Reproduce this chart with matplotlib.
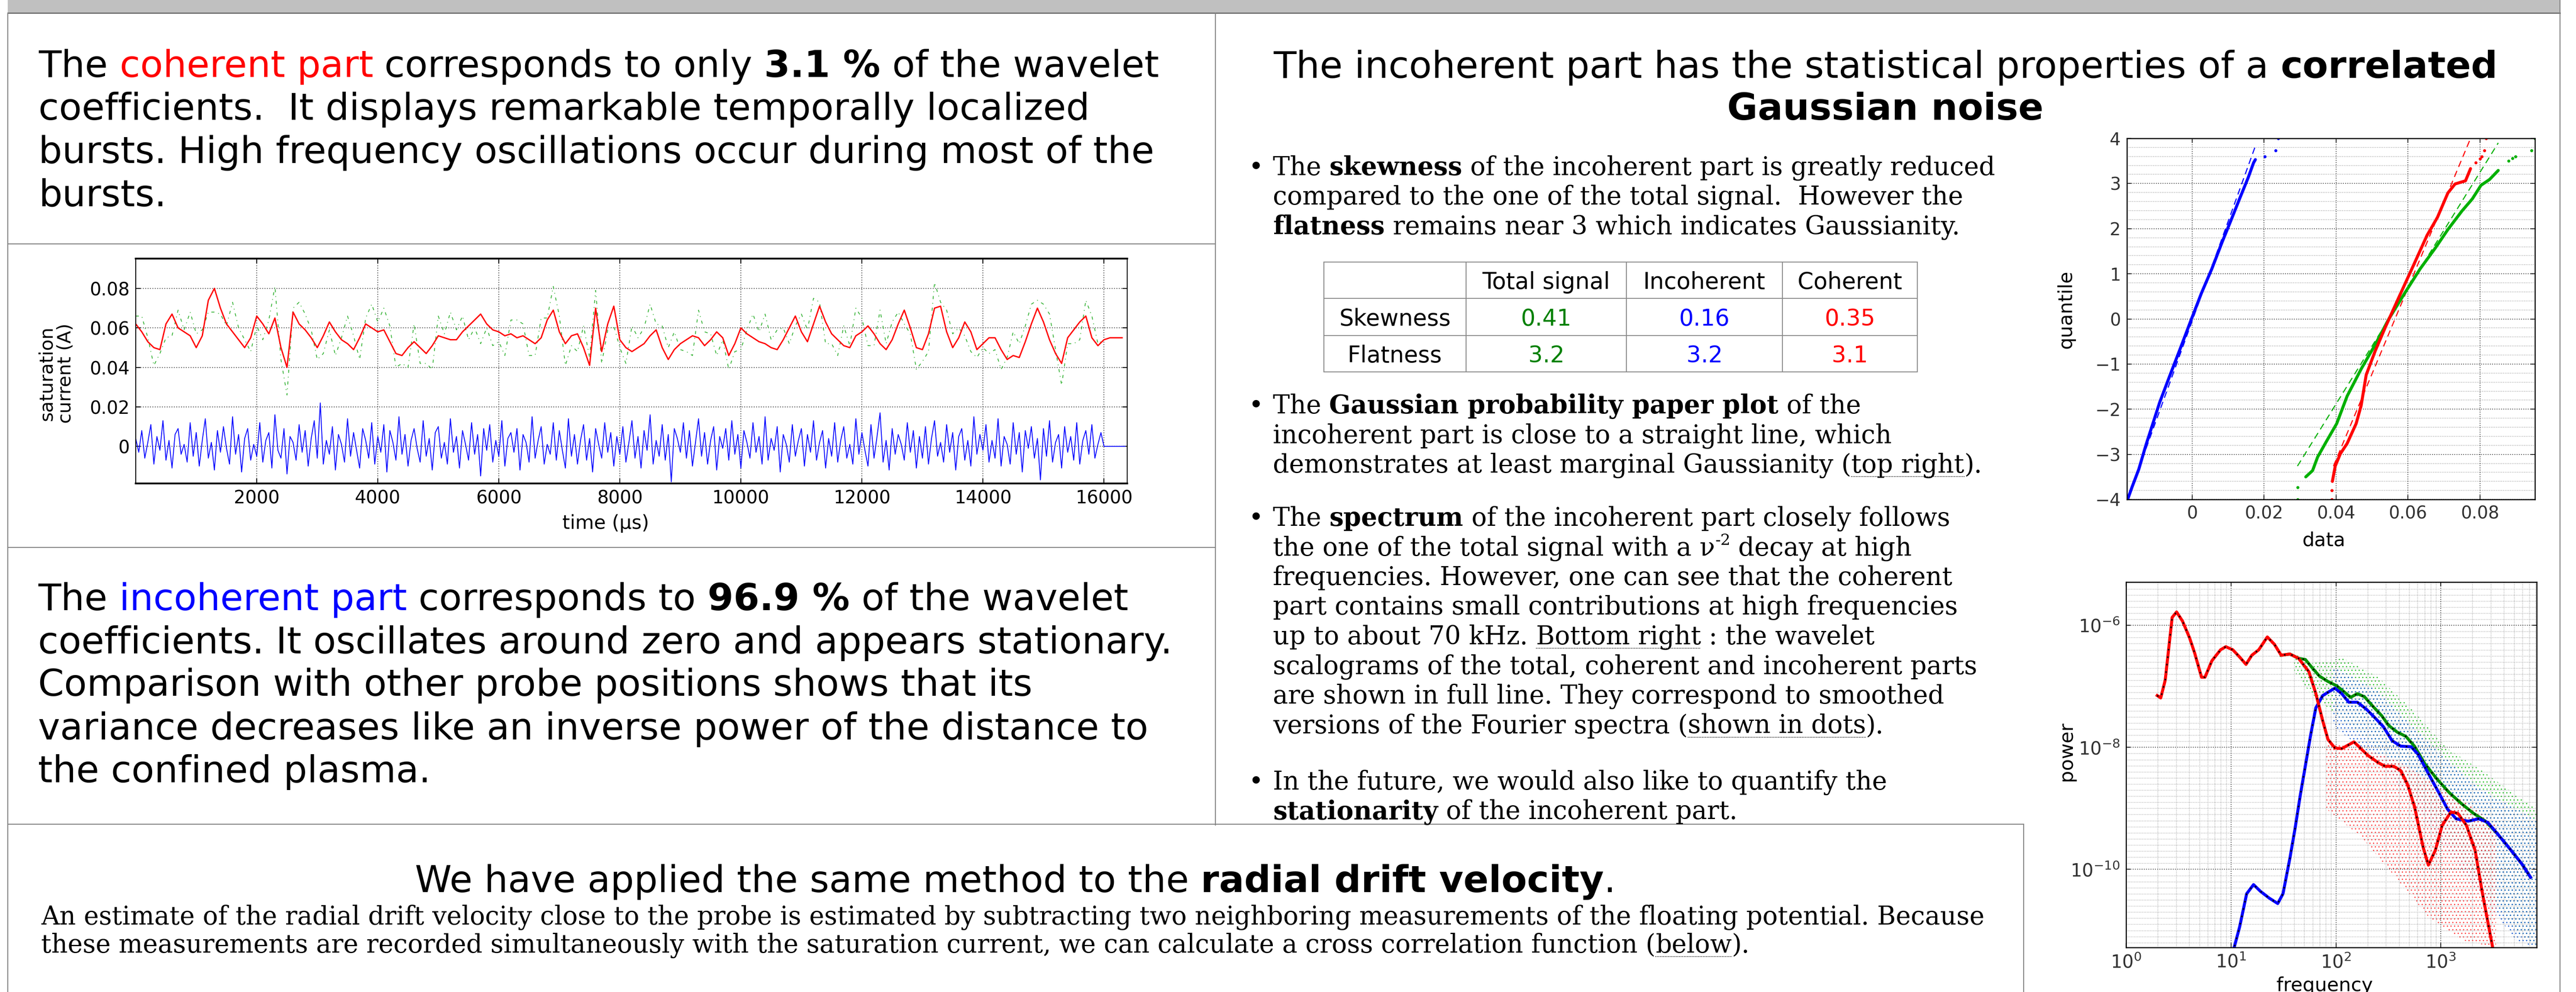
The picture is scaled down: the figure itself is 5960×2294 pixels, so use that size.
import numpy as np
import matplotlib
matplotlib.use('Agg')
import matplotlib.pyplot as plt
from matplotlib.font_manager import FontProperties
from matplotlib.patches import Rectangle
from matplotlib.ticker import FixedLocator, FixedFormatter, LogLocator, NullFormatter

plt.rcParams['font.family'] = 'DejaVu Sans'
plt.rcParams['hatch.linewidth'] = 1.0

W, H, DPI = 5960, 2294, 100

# ---------------- data ----------------
# coherent part of the saturation current (mA), one value every 100 us
coh_ma = [62, 58, 53, 50, 49, 62, 67, 60, 58, 56, 50, 56, 74, 80, 70, 62, 58, 54, 50, 55,
          66, 62, 57, 65, 50, 40, 68, 62, 59, 55, 50, 56, 63, 58, 54, 52, 49, 55, 62, 60,
          58, 59, 53, 47, 46, 50, 53, 50, 47, 51, 56, 55, 54, 54, 58, 61, 64, 67, 62, 59,
          58, 56, 57, 55, 56, 54, 52, 55, 64, 69, 58, 52, 56, 57, 50, 41, 70, 48, 62, 71,
          54, 50, 48, 50, 52, 56, 59, 50, 44, 49, 52, 54, 56, 55, 51, 54, 58, 55, 46, 52,
          60, 57, 55, 53, 52, 50, 49, 54, 60, 66, 58, 53, 62, 71, 63, 57, 54, 51, 50, 56,
          58, 61, 57, 52, 49, 54, 62, 69, 60, 50, 49, 57, 70, 71, 58, 50, 55, 63, 58, 49,
          52, 55, 55, 49, 44, 46, 45, 53, 62, 70, 63, 54, 47, 42, 55, 59, 63, 66, 55, 51,
          54, 55, 55, 55]
# incoherent part (mA), one value every 50 us
inc_ma = [4, -3, 8, -6, 2, 11, -9, 5, -2, 13, -7, 3, -11, 6, 9, -4, 1, -8, 12, -5,
          7, -10, 3, 14, -6, 2, -12, 8, -3, 10, -1, -9, 15, -4, 6, -13, 4, 9, -7, 1,
          -5, 12, -8, 3, 7, -11, 16, -2, -6, 9, -14, 5, 2, -7, 11, -3, 8, -10, 4, 13,
          -6, 22, -9, 3, -4, 10, -12, 6, 1, -8, 14, -5, 7, -2, -11, 9, 3, -6, 12, -9,
          5, -3, 11, -13, 8, 2, -7, 15, -4, 6, -10, 3, 9, -1, -8, 13, -5, 4, -12, 7,
          10, -6, 2, -9, 14, -3, 5, -11, 8, 1, -7, 12, -4, 6, -15, 9, -2, 11, -8, 3,
          -5, 13, -10, 4, 7, -3, 9, -12, 6, 2, -8, 15, -6, 3, 10, -9, 1, -4, 12, -7,
          8, -2, -11, 14, -5, 6, -9, 3, 11, -7, 4, -13, 9, 1, -6, 12, -3, 7, -10, 5,
          -4, 10, -8, 2, 13, -6, 5, -11, 8, -2, 16, -9, 3, -5, 11, -7, 6, -18, 9, 4,
          -3, 12, -6, 8, -10, 2, 14, -5, 7, -9, 3, 10, -12, 5, -1, 9, -7, 13, -4, 6,
          -11, 8, 2, -6, 12, -3, 5, -9, 15, -7, 4, -2, 10, -13, 6, 1, -8, 11, -5, 3,
          9, -10, 6, -3, 13, -7, 2, 8, -11, 4, -5, 12, -8, 3, 10, -6, 1, -9, 14, -4,
          7, -2, -10, 11, -6, 5, 17, -8, 3, -12, 9, -4, 6, 1, -7, 12, -3, 8, -11, 5,
          -6, 10, -9, 4, 13, -5, 2, -8, 11, -3, 7, -12, 5, 9, -7, 3, -10, 15, -4, 6,
          -2, 11, -8, 3, -6, 14, -10, 5, 1, -9, 12, -4, 7, -13, 8, -1, 10, -6, 4, -17,
          9, -5, 13, -8, 2, 6, -11, 10, -3, 5, -7, 12, -9, 3, 8, -4, 11, -6, 1, 7,
          0, 0, 0, 0, 0, 0, 0, 0]
ts_xticks = [2000, 4000, 6000, 8000, 10000, 12000, 14000, 16000]
ts_yticks = [0, 0.02, 0.04, 0.06, 0.08]
ts_ylabels = ['0', '0.02', '0.04', '0.06', '0.08']

# statistics table
table_head = ['', 'Total signal', 'Incoherent', 'Coherent']
table_rows = ['Skewness', 'Flatness']
skewness = [0.41, 0.16, 0.35]
flatness = [3.2, 3.2, 3.1]

# Gaussian probability paper plot (data, quantile)
qq_blue_x = [-0.0179, -0.0167, -0.0148, -0.0128, -0.0109, -0.0090, -0.0061, -0.0032, -0.0003,
             0.0026, 0.0055, 0.0084, 0.0108, 0.0132, 0.0156, 0.0171, 0.0176]
qq_blue_q = [-4.0, -3.73, -3.33, -2.79, -2.32, -1.85, -1.24, -0.64, -0.03,
             0.57, 1.11, 1.71, 2.18, 2.66, 3.13, 3.46, 3.53]
qq_blue_tail_x = [0.0202, 0.0232, 0.0240]
qq_blue_tail_q = [3.60, 3.73, 4.0]
qq_green_x = [0.0316, 0.0335, 0.0349, 0.0373, 0.0402, 0.0431, 0.0470, 0.0509, 0.0547, 0.0591,
              0.0634, 0.0677, 0.0711, 0.0750, 0.0779, 0.0803, 0.0827, 0.0851]
qq_green_q = [-3.50, -3.36, -3.06, -2.72, -2.32, -1.71, -1.11, -0.57, 0.0, 0.57,
              1.11, 1.58, 1.98, 2.39, 2.66, 2.96, 3.09, 3.29]
qq_green_tail_x = [0.0293, 0.0294, 0.0880, 0.0890, 0.0899, 0.0943, 0.0953]
qq_green_tail_q = [-4.0, -3.73, 3.50, 3.56, 3.60, 3.73, 4.0]
qq_red_x = [0.0390, 0.0398, 0.0412, 0.0431, 0.0456, 0.0470, 0.0484, 0.0509, 0.0538, 0.0576,
            0.0615, 0.0653, 0.0682, 0.0711, 0.0731, 0.0760, 0.0774]
qq_red_q = [-3.60, -3.26, -2.99, -2.76, -2.32, -1.92, -1.24, -0.71, -0.17, 0.50,
            1.18, 1.85, 2.25, 2.79, 2.99, 3.06, 3.33]
qq_red_tail_x = [0.0388, 0.0388, 0.0788, 0.0800, 0.0805, 0.0813, 0.0817]
qq_red_tail_q = [-4.0, -3.80, 3.46, 3.55, 3.60, 3.73, 4.0]
qq_fit_blue = ([-0.0179, 0.0176], [-4.0, 3.83])
qq_fit_green = ([0.0293, 0.0851], [-3.26, 3.9])
qq_fit_red = ([0.0393, 0.0774], [-3.26, 4.0])

# wavelet scalograms (frequency, log10 power)
sp_red_f = [1.98, 2.14, 2.36, 2.75, 3.03, 3.45, 4.02, 4.50, 5.24, 5.65, 6.58, 7.96, 8.92, 10.4,
            12.1, 13.9, 15.8, 18.4, 22.2, 25.9, 30.1, 36.4, 44.0, 55.3, 64.4, 75.0, 84.0, 97.7,
            113.8, 148.5, 173, 201, 253, 294, 356, 414, 482, 561, 679, 761, 885, 1030, 1247,
            1452, 1755, 2124, 2472, 2768, 3103]
sp_red_lp = [-7.15, -7.19, -6.90, -5.87, -5.78, -5.93, -6.20, -6.45, -6.85, -6.85, -6.58, -6.40,
             -6.35, -6.40, -6.52, -6.64, -6.49, -6.40, -6.19, -6.31, -6.49, -6.47, -6.54, -6.76,
             -7.12, -7.57, -7.87, -8.01, -8.02, -7.91, -8.02, -8.13, -8.25, -8.31, -8.31, -8.38,
             -8.61, -8.97, -9.64, -9.93, -9.69, -9.28, -9.06, -9.08, -9.28, -9.69, -10.36,
             -10.81, -11.26]
sp_green_f = [30.1, 36.4, 44.0, 51.2, 59.7, 69.5, 84, 101.6, 118, 138, 160, 187, 226, 273, 318,
              384, 464, 561, 705, 920, 1200, 1566, 2042, 2667, 3478, 4535, 5918, 7163]
sp_green_lp = [-6.49, -6.47, -6.54, -6.56, -6.70, -6.83, -6.92, -6.99, -7.08, -7.18, -7.12,
               -7.17, -7.33, -7.48, -7.64, -7.75, -7.82, -7.98, -8.27, -8.52, -8.74, -8.92,
               -9.08, -9.21, -9.42, -9.66, -9.91, -10.13]
sp_blue_f = [10.8, 12.1, 14.1, 16.4, 19.1, 23.1, 27.9, 31.3, 36.4, 40.8, 45.7, 51.3, 57.4, 64.4,
             75.0, 87.3, 97.7, 113.8, 132.5, 160, 194, 234, 283, 343, 414, 520, 605, 761, 955,
             1156, 1397, 1823, 2293, 2800, 3478, 4535, 5918, 7163]
sp_blue_lp = [-11.26, -10.94, -10.40, -10.25, -10.36, -10.47, -10.56, -10.40, -9.82, -9.33,
              -8.79, -8.29, -7.80, -7.35, -7.15, -7.08, -7.03, -7.12, -7.26, -7.26, -7.37,
              -7.51, -7.66, -7.89, -7.98, -7.99, -8.11, -8.43, -8.74, -9.01, -9.17, -9.21,
              -9.17, -9.23, -9.42, -9.66, -9.91, -10.13]
# envelopes of the Fourier spectra clouds (frequency, low, high log10 power)
cl_green_f = [40, 55.3, 118, 253, 540, 1150, 2450, 5300, 8192]
cl_green_lo = [-6.75, -7.08, -7.57, -8.02, -8.65, -9.46, -10.27, -11.03, -11.28]
cl_green_hi = [-6.45, -6.63, -6.54, -6.85, -7.39, -8.02, -8.38, -8.79, -9.01]
cl_blue_f = [94, 253, 540, 1150, 2450, 5300, 8192]
cl_blue_lo = [-7.66, -8.20, -8.92, -9.69, -10.45, -11.17, -11.28]
cl_blue_hi = [-6.67, -7.08, -7.66, -8.20, -8.70, -9.01, -9.19]
cl_red_f = [81, 173, 370, 790, 1690, 3360]
cl_red_lo = [-9.01, -9.46, -10.13, -10.81, -11.17, -11.28]
cl_red_hi = [-7.93, -8.02, -8.20, -8.56, -8.88, -9.28]

# ---------------- figure ----------------
fig = plt.figure(figsize=(W / DPI, H / DPI), dpi=DPI)
bg = fig.add_axes([0, 0, 1, 1])
bg.set_xlim(0, W)
bg.set_ylim(H, 0)
bg.axis('off')
renderer = fig.canvas.get_renderer()


def adv(s, fp):
    w1 = renderer.get_text_width_height_descent('x' + s + 'x', fp, ismath=False)[0]
    w0 = renderer.get_text_width_height_descent('xx', fp, ismath=False)[0]
    return w1 - w0


def put(x, y, segs, size, family='DejaVu Sans', ha='left'):
    parts = []
    total = 0.0
    for seg in segs:
        if isinstance(seg, str):
            seg = (seg, {})
        text, st = seg
        sz = size * (0.62 if st.get('sup') else 1.0)
        fp = FontProperties(family=family, size=sz,
                            weight='bold' if st.get('bold') else 'normal')
        w = adv(text, fp)
        parts.append((text, st, fp, w))
        total += w
    if ha == 'center':
        x -= total / 2
    for text, st, fp, w in parts:
        dy = size * DPI / 72 * 0.42 if st.get('sup') else 0
        bg.text(x, y - dy, text, fontproperties=fp, color=st.get('color', 'black'),
                ha='left', va='baseline')
        if st.get('ul'):
            bg.plot([x, x + w], [y + 9, y + 9], color='black', lw=1.2,
                    ls=(0, (1, 1.2)), clip_on=False)
        x += w


def hline(x0, x1, y, c='#808080', lw=1.6):
    bg.plot([x0, x1], [y, y], color=c, lw=lw, clip_on=False)


def vline(x, y0, y1, c='#808080', lw=1.6):
    bg.plot([x, x], [y0, y1], color=c, lw=lw, clip_on=False)


def px_axes(l, t, r, b):
    return fig.add_axes([l / W, 1 - b / H, (r - l) / W, (b - t) / H])


# frame of the poster
bg.add_patch(Rectangle((18, 0), 5905, 30, facecolor='#c0c0c0', edgecolor='none'))
hline(18, 5923, 30, c='#6a6a6a', lw=2)
vline(18, 30, H)
vline(5923, 0, H)
vline(2812, 30, 1908)
hline(18, 2812, 564)
hline(18, 2812, 1266)
hline(18, 4682, 1906)
vline(4682, 1906, H)

B = {'bold': True}
HEAD = 62
BODY = 42.3

# left column texts
put(89, 178, ['The ', ('coherent part', {'color': '#ff0000'}), ' corresponds to only ',
              ('3.1 %', B), ' of the wavelet'], HEAD)
put(89, 277, ['coefficients.  It displays remarkable temporally localized'], HEAD)
put(89, 377, ['bursts. High frequency oscillations occur during most of the'], HEAD)
put(89, 476, ['bursts.'], HEAD)

put(88, 1411, ['The ', ('incoherent part', {'color': '#0000ff'}), ' corresponds to ',
               ('96.9 %', B), ' of the wavelet'], HEAD)
put(88, 1511, ['coefficients. It oscillates around zero and appears stationary.'], HEAD)
put(88, 1609, ['Comparison with other probe positions shows that its'], HEAD)
put(88, 1710, ['variance decreases like an inverse power of the distance to'], HEAD)
put(88, 1809, ['the confined plasma.'], HEAD)

# right column title
put(4362, 180, ['The incoherent part has the statistical properties of a ',
                ('correlated', B)], HEAD, ha='center')
put(4362, 277, [('Gaussian noise', B)], HEAD, ha='center')

# bullets
SER = 'DejaVu Serif'
bullets = [
    (405, [['The ', ('skewness', B), ' of the incoherent part is greatly reduced'],
           ['compared to the one of the total signal.  However the'],
           [('flatness', B), ' remains near 3 which indicates Gaussianity.']]),
    (956, [['The ', ('Gaussian probability paper plot', B), ' of the'],
           ['incoherent part is close to a straight line, which'],
           ['demonstrates at least marginal Gaussianity (', ('top right', {'ul': True}), ').']]),
    (1216, [['The ', ('spectrum', B), ' of the incoherent part closely follows'],
            ['the one of the total signal with a \u03bd', ('-2', {'sup': True}), ' decay at high'],
            ['frequencies. However, one can see that the coherent'],
            ['part contains small contributions at high frequencies'],
            ['up to about 70 kHz. ', ('Bottom right', {'ul': True}), ' : the wavelet'],
            ['scalograms of the total, coherent and incoherent parts'],
            ['are shown in full line. They correspond to smoothed'],
            ['versions of the Fourier spectra (', ('shown in dots', {'ul': True}), ').']]),
    (1826, [['In the future, we would also like to quantify the'],
            [('stationarity', B), ' of the incoherent part.']]),
]
for y0, lines in bullets:
    put(2888, y0, ['\u2022'], BODY, family=SER)
    for k, segs in enumerate(lines):
        put(2945, y0 + k * 68.5, segs, BODY, family=SER)

# statistics table
tx = [3063, 3392, 3763, 4124, 4436]
ty = [606, 690, 776, 860]
for x in tx:
    vline(x, ty[0], ty[-1], c='#888888', lw=1.5)
for y in ty:
    hline(tx[0], tx[-1], y, c='#888888', lw=1.5)
val_colors = ['#008000', '#0000ff', '#ff0000']
for j, hd in enumerate(table_head):
    bg.text((tx[j] + tx[j + 1]) / 2, (ty[0] + ty[1]) / 2 + 20, hd, fontsize=38,
            ha='center', va='baseline')
for i, (name, vals) in enumerate(zip(table_rows, [skewness, flatness])):
    yb = (ty[i + 1] + ty[i + 2]) / 2 + 20
    bg.text((tx[0] + tx[1]) / 2, yb, name, fontsize=38, ha='center', va='baseline')
    for j, v in enumerate(vals):
        bg.text((tx[j + 1] + tx[j + 2]) / 2, yb, f'{v:g}', fontsize=38, ha='center',
                va='baseline', color=val_colors[j])

# bottom panel
put(2349, 2063, ['We have applied the same method to the ', ('radial drift velocity', B), '.'],
    HEAD, ha='center')
put(95, 2138, ['An estimate of the radial drift velocity close to the probe is estimated by '
               'subtracting two neighboring measurements of the floating potential. Because'],
    BODY, family=SER)
put(95, 2203, ['these measurements are recorded simultaneously with the saturation current, '
               'we can calculate a cross correlation function (', ('below', {'ul': True}), ').'],
    BODY, family=SER)

# ---------------- time series ----------------
coh = np.array(coh_ma) * 1e-3
inc = np.array(inc_ma) * 1e-3
t_coh = np.arange(len(coh)) * 100
t_inc = np.arange(len(inc)) * 50
n = min(len(coh), len(inc[::2]), 161)
total = coh[:n] + inc[::2][:n]

ax1 = px_axes(314, 598, 2608, 1118)
ax1.plot(t_coh[:n], total, color='#30b030', ls=(0, (4, 5, 1, 5)), lw=1.3)
ax1.plot(t_coh, coh, color='#ff0000', lw=2.2)
ax1.plot(t_inc, inc, color='#0000ff', lw=1.4)
ax1.set_xlim(0, 16384)
ax1.set_ylim(-0.0188, 0.0951)
ax1.set_xticks(ts_xticks)
ax1.set_yticks(ts_yticks)
ax1.set_yticklabels(ts_ylabels)
ax1.grid(True, ls=':', color='0.35', lw=1.5)
ax1.tick_params(direction='in', length=8, width=1.5, labelsize=30, top=True, right=True, pad=10)
for s in ['top', 'bottom']:
    ax1.spines[s].set_linewidth(3)
for s in ['left', 'right']:
    ax1.spines[s].set_linewidth(1.5)
bg.text(130, 863, 'saturation\ncurrent (A)', rotation=90, fontsize=31, ha='center',
        va='center', linespacing=1.05)
bg.text(1401, 1211, 'time (\u00b5s)', fontsize=32, ha='center', va='center')

# ---------------- probability paper plot ----------------
ax2 = px_axes(4921, 320, 5865, 1155)
for fx, fq, c in [(qq_fit_blue[0], qq_fit_blue[1], '#0000ff'),
                  (qq_fit_green[0], qq_fit_green[1], '#00b000'),
                  (qq_fit_red[0], qq_fit_red[1], '#ff0000')]:
    ax2.plot(fx, fq, color=c, ls=(0, (6, 4)), lw=1.8)
for x, q, tx_, tq, c in [(qq_blue_x, qq_blue_q, qq_blue_tail_x, qq_blue_tail_q, '#0000ff'),
                         (qq_green_x, qq_green_q, qq_green_tail_x, qq_green_tail_q, '#00b000'),
                         (qq_red_x, qq_red_q, qq_red_tail_x, qq_red_tail_q, '#ff0000')]:
    ax2.plot(x, q, color=c, lw=5, solid_capstyle='round')
    ax2.plot(tx_, tq, 'o', color=c, ms=4)
ax2.set_xlim(-0.0181, 0.0953)
ax2.set_ylim(-4, 4)
ax2.set_xticks([0, 0.02, 0.04, 0.06, 0.08])
ax2.set_xticklabels(['0', '0.02', '0.04', '0.06', '0.08'])
ax2.set_yticks([-4, -3, -2, -1, 0, 1, 2, 3, 4])
ax2.set_yticklabels(['\u22124', '\u22123', '\u22122', '\u22121', '0', '1', '2', '3', '4'])
ax2.yaxis.set_minor_locator(FixedLocator(np.arange(-40, 41, 2) / 10))
ax2.grid(True, which='major', ls=':', color='0.3', lw=1.4)
ax2.grid(True, which='minor', axis='y', ls=':', color='0.6', lw=1.1)
ax2.tick_params(which='both', direction='in', top=True, right=True, width=1.2)
ax2.tick_params(which='major', length=7, labelsize=29, pad=10, labelcolor='#333333')
ax2.tick_params(which='minor', length=0)
for s in ax2.spines.values():
    s.set_linewidth(1.8)
bg.text(4780, 715, 'quantile', rotation=90, fontsize=32, ha='center', va='center')
bg.text(5377, 1250, 'data', fontsize=32, ha='center', va='center')

# ---------------- spectra ----------------
ax3 = px_axes(4919, 1346, 5869, 2191)
ax3.set_xscale('log')
ax3.set_yscale('log')
for f, lo, hi, c in [(cl_green_f, cl_green_lo, cl_green_hi, '#30c030'),
                     (cl_blue_f, cl_blue_lo, cl_blue_hi, '#2060d0'),
                     (cl_red_f, cl_red_lo, cl_red_hi, '#ff4040')]:
    ax3.fill_between(f, 10 ** np.array(lo), 10 ** np.array(hi), facecolor='none',
                     edgecolor=c, hatch='..', linewidth=0)
for f, lp, c in [(sp_green_f, sp_green_lp, '#009000'),
                 (sp_blue_f, sp_blue_lp, '#0000ff'),
                 (sp_red_f, sp_red_lp, '#ff0000')]:
    p = 10 ** np.array(lp)
    ax3.plot(f, p, color=c, lw=5, solid_joinstyle='round')
    ax3.plot(f, p, color='black', lw=2.5, ls=(0, (1, 4)))
ax3.set_xlim(1, 8192)
ax3.set_ylim(10 ** -11.28, 10 ** -5.29)
ax3.xaxis.set_major_locator(FixedLocator([1, 10, 100, 1000]))
ax3.xaxis.set_major_formatter(FixedFormatter([r'$10^{0}$', r'$10^{1}$', r'$10^{2}$', r'$10^{3}$']))
ax3.xaxis.set_minor_locator(LogLocator(base=10, subs=np.arange(2, 10), numticks=100))
ax3.xaxis.set_minor_formatter(NullFormatter())
ax3.yaxis.set_major_locator(FixedLocator([1e-10, 1e-8, 1e-6]))
ax3.yaxis.set_major_formatter(FixedFormatter([r'$10^{-10}$', r'$10^{-8}$', r'$10^{-6}$']))
ax3.yaxis.set_minor_locator(FixedLocator(10.0 ** (np.arange(-112, -52) / 10)))
ax3.yaxis.set_minor_formatter(NullFormatter())
ax3.grid(True, which='major', ls=':', color='0.3', lw=1.4)
ax3.grid(True, which='minor', ls=':', color='0.6', lw=1.0)
ax3.tick_params(which='both', direction='in', top=True, right=True, width=1.2)
ax3.tick_params(which='major', length=7, labelsize=30, pad=10, labelcolor='#333333')
ax3.tick_params(which='minor', length=0)
for s in ax3.spines.values():
    s.set_linewidth(1.8)
bg.text(4780, 1737, 'power', rotation=90, fontsize=32, ha='center', va='center')
bg.text(5379, 2258, 'frequency', fontsize=32, ha='center', va='top')

fig.savefig('out.png', dpi=DPI)
